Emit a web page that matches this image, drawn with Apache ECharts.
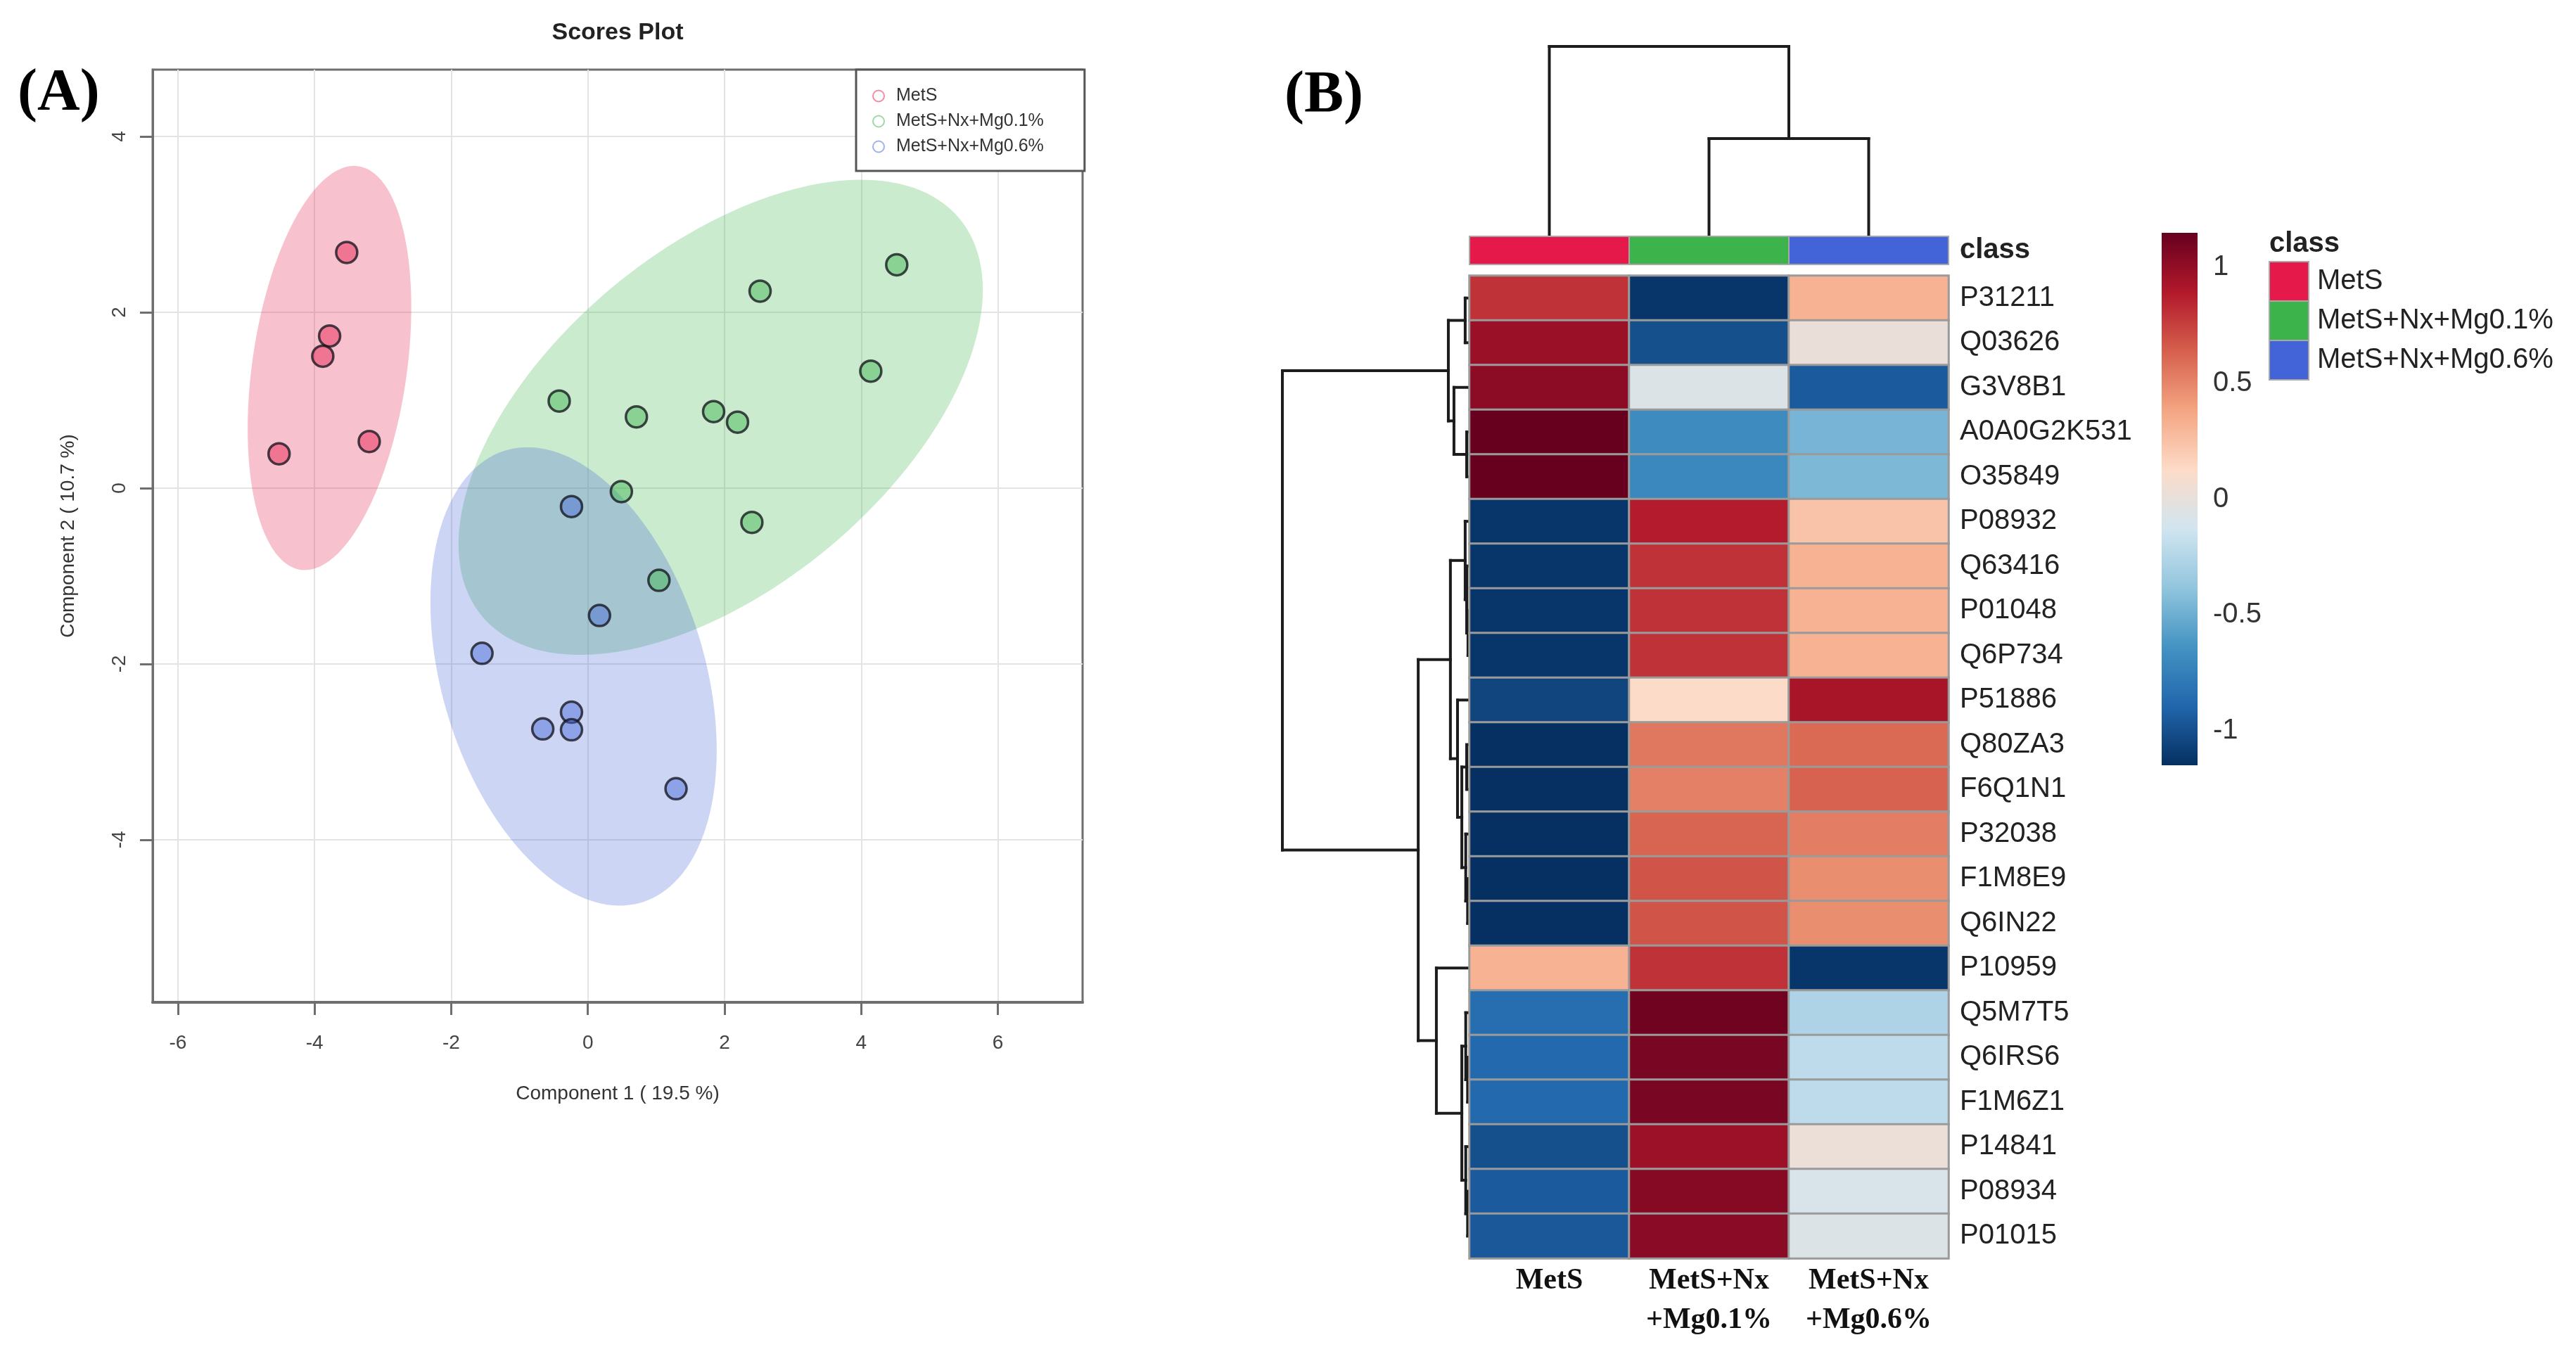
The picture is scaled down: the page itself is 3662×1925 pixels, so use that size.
<!DOCTYPE html>
<html><head><meta charset="utf-8">
<script src="https://cdn.jsdelivr.net/npm/echarts@6/dist/echarts.min.js"></script>
<style>html,body{margin:0;padding:0;background:#fff}#c{width:3662px;height:1925px}</style>
</head><body><div id="c"></div>
<script>
// ---------- data: scores plot ----------
const groupNames = ['MetS', 'MetS+Nx+Mg0.1%', 'MetS+Nx+Mg0.6%'];
const groupColors = ['#E6194B', '#3CB44B', '#4363D8'];
const metsX = [-3.53, -3.78, -3.88, -4.52, -3.20];
const metsY = [2.68, 1.73, 1.50, 0.39, 0.53];
const mg01X = [4.52, 2.52, 4.14, -0.42, 0.71, 1.84, 2.19, 0.49, 2.40, 1.04];
const mg01Y = [2.54, 2.24, 1.33, 0.99, 0.81, 0.87, 0.75, -0.04, -0.39, -1.05];
const mg06X = [-0.24, 0.17, -1.55, -0.24, -0.66, -0.24, 1.29];
const mg06Y = [-0.21, -1.45, -1.88, -2.55, -2.74, -2.75, -3.42];
const xTicks = [-6, -4, -2, 0, 2, 4, 6];
const yTicks = [-4, -2, 0, 2, 4];
const xRange = [-6.37, 7.24];
const yRange = [-5.85, 4.76];

// ---------- data: heatmap ----------
const proteins = ['P31211','Q03626','G3V8B1','A0A0G2K531','O35849','P08932','Q63416','P01048','Q6P734','P51886','Q80ZA3','F6Q1N1','P32038','F1M8E9','Q6IN22','P10959','Q5M7T5','Q6IRS6','F1M6Z1','P14841','P08934','P01015'];
const heatCols = ['MetS', 'MetS+Nx\n+Mg0.1%', 'MetS+Nx\n+Mg0.6%'];
const zMetS = [0.80, 0.98, 1.02, 1.15, 1.15, -1.12, -1.12, -1.12, -1.12, -1.05, -1.15, -1.15, -1.15, -1.15, -1.15, 0.32, -0.85, -0.88, -0.88, -1.00, -0.95, -0.96];
const zMg01 = [-1.12, -1.00, -0.07, -0.68, -0.70, 0.88, 0.80, 0.80, 0.80, 0.12, 0.55, 0.52, 0.62, 0.68, 0.68, 0.80, 1.12, 1.09, 1.09, 0.97, 1.04, 1.03];
const zMg06 = [0.32, 0.02, -0.95, -0.47, -0.45, 0.24, 0.32, 0.32, 0.32, 0.93, 0.60, 0.63, 0.53, 0.47, 0.47, -1.12, -0.27, -0.21, -0.21, 0.03, -0.09, -0.07];
const colorbarTicks = [-1, -0.5, 0, 0.5, 1];
const palette = ['#053061','#2166AC','#4393C3','#92C5DE','#D1E5F0','#FDDBC7','#F4A582','#D6604D','#B2182B','#67001F'];
// dendrograms: [height, left, right], leaves = row / column index
const rowTree = [10,
  [1.13, [0.23, 0, 1], [0.83, 2, [0.15, 3, 4]]],
  [2.74,
    [1.02, [0.23, 5, [0.15, 6, [0.08, 7, 8]]],
           [0.64, 9, [0.41, [0.15, 10, 11], [0.2, 12, [0.1, 13, 14]]]]],
    [1.77, 15, [0.41, [0.2, 16, [0.1, 17, 18]], [0.2, 19, [0.1, 20, 21]]]]]];
const colTree = [10, 0, [5.15, 1, 2]];

// ---------- helpers ----------
const SANS = 'Liberation Sans';
const SERIF = 'Liberation Serif';
function rgba(hex, a) {
  const n = parseInt(hex.slice(1), 16);
  return 'rgba(' + (n >> 16 & 255) + ',' + (n >> 8 & 255) + ',' + (n & 255) + ',' + a + ')';
}
function ellipsePts(xs, ys, n) {
  const m = xs.length;
  const mx = xs.reduce((a, b) => a + b, 0) / m, my = ys.reduce((a, b) => a + b, 0) / m;
  let sxx = 0, syy = 0, sxy = 0;
  for (let i = 0; i < m; i++) { sxx += (xs[i]-mx)**2; syy += (ys[i]-my)**2; sxy += (xs[i]-mx)*(ys[i]-my); }
  sxx /= (m-1); syy /= (m-1); sxy /= (m-1);
  const t = Math.sqrt(5.991464547107979);
  const l11 = Math.sqrt(sxx), l21 = sxy / l11, l22 = Math.sqrt(syy - l21*l21);
  const pts = [];
  for (let i = 0; i < n; i++) {
    const a = 2*Math.PI*i/n;
    pts.push([mx + t*l11*Math.cos(a), my + t*(l21*Math.cos(a) + l22*Math.sin(a))]);
  }
  return pts;
}
function dendro(node) {
  if (typeof node === 'number') return {h: 0, p: node + 0.5, segs: []};
  const [h, a, b] = node;
  const A = dendro(a), B = dendro(b);
  const segs = A.segs.concat(B.segs);
  segs.push([A.h, A.p, h, A.p], [h, A.p, h, B.p], [h, B.p, B.h, B.p]);
  return {h: h, p: (A.p + B.p) / 2, segs: segs};
}

const groupsX = [metsX, mg01X, mg06X], groupsY = [metsY, mg01Y, mg06Y];
const heatData = [];
proteins.forEach((p, i) => { heatData.push([0, i, zMetS[i]], [1, i, zMg01[i]], [2, i, zMg06[i]]); });
const allZ = zMetS.concat(zMg01, zMg06);
const vmax = Math.max(...allZ.map(Math.abs));
const vmin = -vmax;

const rowSegs = dendro(rowTree).segs;
const colSegs = dendro(colTree).segs.map(s => [s[1], s[0], s[3], s[2]]);
const lineRender = function (params, api) {
  const p1 = api.coord([api.value(0), api.value(1)]);
  const p2 = api.coord([api.value(2), api.value(3)]);
  return {type: 'line', shape: {x1: p1[0], y1: p1[1], x2: p2[0], y2: p2[1]},
          style: {stroke: '#1c1c1c', lineWidth: 4, lineCap: 'square'}};
};

const series = [];
// ellipses
groupNames.forEach((g, k) => {
  const pts = ellipsePts(groupsX[k], groupsY[k], 160);
  series.push({
    type: 'custom', name: g + ' region', xAxisIndex: 0, yAxisIndex: 0, silent: true,
    data: [[0, 0]],
    renderItem: function (params, api) {
      return {type: 'polygon', shape: {points: pts.map(p => api.coord(p))},
              style: {fill: rgba(groupColors[k], 0.27), stroke: null}};
    }
  });
});
// points
groupNames.forEach((g, k) => {
  series.push({
    type: 'scatter', name: g, xAxisIndex: 0, yAxisIndex: 0,
    data: groupsX[k].map((x, i) => [x, groupsY[k][i]]),
    symbol: 'circle', symbolSize: 30,
    itemStyle: {color: rgba(groupColors[k], 0.45), borderColor: 'rgba(20,20,30,0.78)', borderWidth: 3.5, opacity: 1}
  });
});
// row dendrogram
series.push({type: 'custom', xAxisIndex: 1, yAxisIndex: 1, data: rowSegs, renderItem: lineRender, silent: true, clip: false});
// column dendrogram
series.push({type: 'custom', xAxisIndex: 2, yAxisIndex: 2, data: colSegs, renderItem: lineRender, silent: true, clip: false});
// class bar
series.push({
  type: 'custom', xAxisIndex: 3, yAxisIndex: 3, silent: true,
  data: [[0, 0], [1, 0], [2, 0]],
  renderItem: function (params, api) {
    const c = api.coord([api.value(0), api.value(1)]);
    const s = api.size([1, 1]);
    return {type: 'rect', shape: {x: c[0] - s[0]/2, y: c[1] - s[1]/2, width: s[0], height: s[1]},
            style: {fill: groupColors[params.dataIndex], stroke: '#a8a8a8', lineWidth: 2}};
  }
});
// heatmap
const heatIndex = series.length;
series.push({
  type: 'heatmap', xAxisIndex: 4, yAxisIndex: 4, data: heatData,
  itemStyle: {borderColor: '#9a9a9a', borderWidth: 3},
  emphasis: {disabled: true}
});
// colorbar
series.push({
  type: 'custom', xAxisIndex: 5, yAxisIndex: 5, silent: true,
  data: [[0, vmin, 1, vmax]],
  renderItem: function (params, api) {
    const p1 = api.coord([api.value(0), api.value(3)]);
    const p2 = api.coord([api.value(2), api.value(1)]);
    return {type: 'rect', shape: {x: p1[0], y: p1[1], width: p2[0] - p1[0], height: p2[1] - p1[1]},
            style: {fill: new echarts.graphic.LinearGradient(0, 1, 0, 0,
              palette.map((c, i) => ({offset: i / (palette.length - 1), color: c})))}};
  }
});

const hidden = {show: false};
const hiddenAxis = (type, min, max, extra) => Object.assign({type: type, min: min, max: max,
  axisLine: hidden, axisTick: hidden, axisLabel: hidden, splitLine: hidden}, extra || {});

const option = {
  animation: false,
  backgroundColor: '#ffffff',
  grid: [
    {left: 217, top: 99, width: 1322, height: 1326, show: true, borderColor: '#6e6e6e', borderWidth: 3},
    {left: 1823, top: 392, width: 266, height: 1397},
    {left: 2089, top: 66, width: 681, height: 270},
    {left: 2089, top: 336, width: 681, height: 40},
    {left: 2089, top: 392, width: 681, height: 1397},
    {left: 3073, top: 331, width: 51, height: 757}
  ],
  xAxis: [
    {type: 'value', gridIndex: 0, min: xRange[0], max: xRange[1],
     name: 'Component 1 ( 19.5 %)', nameLocation: 'middle', nameGap: 116,
     nameTextStyle: {fontFamily: SANS, fontSize: 28, color: '#333'},
     axisLine: {show: true, onZero: false, lineStyle: {color: '#6e6e6e', width: 4}},
     axisTick: {show: true, length: 18, customValues: xTicks, lineStyle: {color: '#6e6e6e', width: 3}},
     axisLabel: {customValues: xTicks, margin: 44, fontFamily: SANS, fontSize: 28, color: '#444'},
     splitLine: {show: true, lineStyle: {color: '#e4e4e4', width: 2}}},
    hiddenAxis('value', 0, 10, {gridIndex: 1, inverse: true}),
    hiddenAxis('value', 0, 3, {gridIndex: 2}),
    {type: 'category', gridIndex: 3, data: heatCols, axisLine: hidden, axisTick: hidden, axisLabel: hidden, splitLine: hidden},
    {type: 'category', gridIndex: 4, data: heatCols, position: 'bottom',
     axisLine: hidden, axisTick: hidden, splitLine: hidden,
     axisLabel: {interval: 0, hideOverlap: false, margin: 4, fontFamily: SERIF, fontWeight: 'bold', fontSize: 42, lineHeight: 56, color: '#111'}},
    hiddenAxis('value', 0, 1, {gridIndex: 5})
  ],
  yAxis: [
    {type: 'value', gridIndex: 0, min: yRange[0], max: yRange[1],
     name: 'Component 2 ( 10.7 %)', nameLocation: 'middle', nameGap: 106, nameRotate: 90,
     nameTextStyle: {fontFamily: SANS, fontSize: 28, color: '#333'},
     axisLine: {show: true, onZero: false, lineStyle: {color: '#6e6e6e', width: 3}},
     axisTick: {show: true, length: 18, customValues: yTicks, lineStyle: {color: '#6e6e6e', width: 3}},
     axisLabel: {customValues: yTicks, rotate: 90, margin: 33, fontFamily: SANS, fontSize: 28, color: '#444'},
     splitLine: {show: true, lineStyle: {color: '#e4e4e4', width: 2}}},
    hiddenAxis('value', 0, proteins.length, {gridIndex: 1, inverse: true}),
    hiddenAxis('value', 0, 10, {gridIndex: 2}),
    {type: 'category', gridIndex: 3, data: ['class'], position: 'right',
     axisLine: hidden, axisTick: hidden, splitLine: hidden,
     axisLabel: {margin: 16, fontFamily: SANS, fontWeight: 'bold', fontSize: 40, color: '#222'}},
    {type: 'category', gridIndex: 4, data: proteins, position: 'right', inverse: true,
     axisLine: hidden, axisTick: hidden, splitLine: hidden,
     axisLabel: {interval: 0, margin: 16, fontFamily: SANS, fontSize: 40, color: '#222'}},
    {type: 'value', gridIndex: 5, min: vmin, max: vmax, position: 'right',
     axisLine: hidden, axisTick: hidden, splitLine: hidden,
     axisLabel: {customValues: colorbarTicks, margin: 22, fontFamily: SANS, fontSize: 40, color: '#333'}}
  ],
  visualMap: [{type: 'continuous', show: false, seriesIndex: heatIndex, dimension: 2,
               min: vmin, max: vmax, inRange: {color: palette}}],
  legend: {
    data: groupNames.map((g, k) => ({name: g, icon: 'emptyCircle',
      itemStyle: {color: rgba(groupColors[k], 0.5), borderColor: rgba(groupColors[k], 0.5), borderWidth: 3}})),
    left: 1217, top: 99, orient: 'vertical', selectedMode: false,
    backgroundColor: '#ffffff', borderColor: '#555', borderWidth: 3,
    padding: [25, 58, 22, 23], itemGap: 11, itemWidth: 16, itemHeight: 16,
    textStyle: {fontFamily: SANS, fontSize: 25, color: '#333', padding: [0, 0, 0, 12]}
  },
  graphic: [
    {type: 'text', left: 25, top: 92, style: {text: '(A)', font: 'bold 84px "Liberation Serif"', fill: '#000'}},
    {type: 'text', left: 1826, top: 95, style: {text: '(B)', font: 'bold 84px "Liberation Serif"', fill: '#000'}},
    {type: 'text', x: 878, y: 47, style: {text: 'Scores Plot', font: 'bold 34px "Liberation Sans"', fill: '#222', align: 'center', verticalAlign: 'middle'}},
    {type: 'text', x: 3226, y: 347, style: {text: 'class', font: 'bold 40px "Liberation Sans"', fill: '#222', verticalAlign: 'middle'}}
  ].concat(groupNames.map((g, k) => ({type: 'rect', shape: {x: 3226, y: 372 + k*56, width: 56, height: 56},
      style: {fill: groupColors[k], stroke: '#a8a8a8', lineWidth: 2}})))
   .concat(groupNames.map((g, k) => ({type: 'text', x: 3294, y: 400 + k*56,
      style: {text: g, font: '40px "Liberation Sans"', fill: '#222', verticalAlign: 'middle'}}))),
  series: series
};

const chart = echarts.init(document.getElementById('c'), null, {renderer: 'canvas', width: 3662, height: 1925});
chart.setOption(option);
</script>
</body></html>
